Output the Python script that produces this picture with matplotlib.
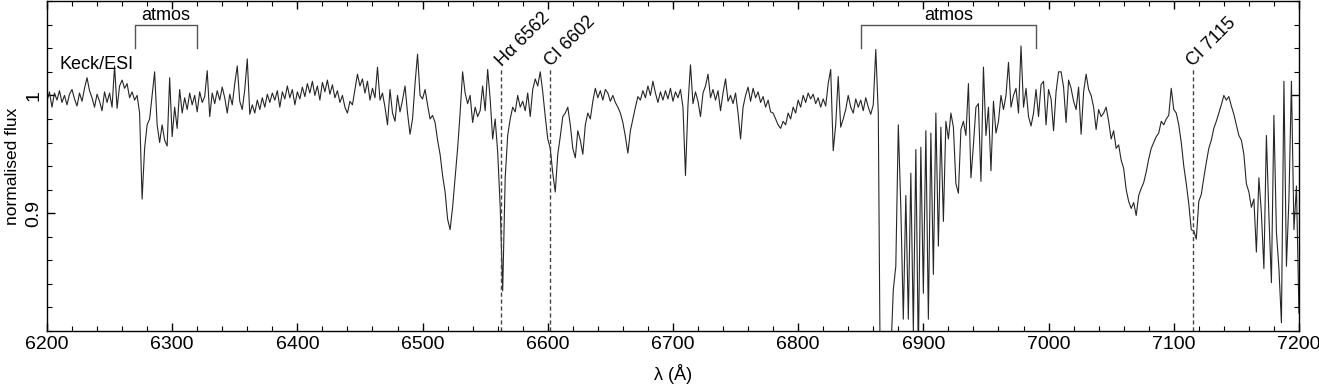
#!/usr/bin/env python3
"""Keck/ESI normalised spectrum, 6200-7200 A, with telluric bands and line markers."""

import matplotlib

matplotlib.use("Agg")
import matplotlib.pyplot as plt
import numpy as np
from matplotlib.ticker import FixedLocator, MultipleLocator

flux_6200 = [
    0.995, 1.003, 0.990, 1.002, 0.996, 1.004, 0.994, 1.000, 0.992, 1.001,
    1.005, 0.997, 0.991, 1.002, 0.995, 1.006, 1.015, 1.004, 0.998, 0.990,
    1.001, 0.995, 0.987, 1.003, 0.994, 1.002, 0.990, 1.025, 0.989, 1.008,
    1.013, 1.006, 1.010, 0.998, 1.003, 0.996, 1.000, 0.985, 0.912, 0.955,
    0.975, 0.980, 1.000, 1.020, 0.975, 0.960, 0.975, 0.962, 0.957, 1.015,
]
flux_6300 = [
    0.965, 0.990, 0.972, 1.005, 0.985, 0.998, 0.988, 1.002, 0.992, 1.000,
    0.986, 1.003, 0.994, 0.999, 1.021, 0.982, 1.002, 0.993, 1.004, 0.996,
    1.007, 0.998, 0.985, 1.001, 0.992, 1.010, 1.025, 0.995, 0.988, 1.005,
    1.031, 0.984, 0.992, 0.985, 0.996, 0.988, 0.998, 0.990, 1.001, 0.994,
    1.002, 0.996, 1.004, 0.990, 1.003, 0.997, 1.008, 0.998, 1.005, 0.992,
]
flux_6400 = [
    1.003, 0.997, 1.007, 0.999, 1.010, 1.002, 1.012, 1.000, 1.008, 0.996,
    1.011, 1.003, 1.013, 1.001, 1.009, 0.998, 1.004, 0.994, 1.000, 0.990,
    0.985, 0.995, 0.992, 1.005, 1.018, 1.008, 1.014, 1.002, 1.012, 0.996,
    1.006, 0.998, 1.024, 0.996, 1.002, 0.990, 0.975, 1.005, 0.985, 0.978,
    1.000, 0.986, 0.996, 1.008, 0.985, 0.967, 0.980, 1.010, 1.035, 1.000,
]
flux_6500 = [
    0.997, 1.005, 0.992, 0.980, 0.983, 0.977, 0.962, 0.950, 0.932, 0.918,
    0.895, 0.886, 0.905, 0.930, 0.955, 0.985, 1.020, 1.002, 0.993, 1.000,
    0.977, 0.990, 0.982, 0.987, 1.008, 0.987, 1.022, 0.997, 0.963, 0.980,
    0.952, 0.906, 0.834, 0.930, 0.966, 0.980, 0.990, 0.986, 1.000, 0.990,
    0.995, 0.987, 1.002, 0.982, 1.005, 1.014, 1.008, 1.020, 1.003, 0.982,
]
flux_6600 = [
    0.963, 0.955, 0.934, 0.918, 0.950, 0.965, 0.982, 0.985, 0.990, 0.975,
    0.955, 0.947, 0.970, 0.962, 0.950, 0.975, 0.985, 0.980, 0.995, 1.006,
    0.998, 1.004, 0.996, 1.005, 1.002, 0.995, 1.000, 0.994, 0.990, 0.985,
    0.977, 0.965, 0.951, 0.970, 0.980, 0.990, 0.999, 0.996, 1.004, 0.998,
    1.008, 1.000, 1.012, 1.002, 0.994, 1.003, 0.996, 1.004, 0.997, 1.006,
]
flux_6700 = [
    0.995, 1.003, 0.998, 1.005, 0.990, 0.932, 0.992, 1.026, 0.993, 1.003,
    0.995, 0.982, 1.002, 1.008, 1.018, 0.998, 1.005, 0.996, 1.004, 0.987,
    1.002, 1.014, 0.995, 1.000, 0.993, 1.002, 0.985, 0.963, 0.990, 1.000,
    1.007, 0.995, 1.006, 0.998, 1.003, 0.994, 0.999, 0.990, 0.996, 0.986,
    0.985, 0.980, 0.975, 0.972, 0.978, 0.975, 0.985, 0.980, 0.990, 0.985,
]
flux_6800 = [
    0.996, 0.990, 1.000, 0.994, 1.002, 0.997, 1.001, 0.993, 0.998, 0.990,
    0.997, 0.991, 1.010, 1.022, 0.953, 0.975, 1.016, 0.973, 0.980, 0.988,
    1.000, 0.990, 0.985, 0.997, 0.990, 0.996, 0.987, 0.998, 0.990, 0.984,
    0.992, 1.039, 0.985, 0.700, 0.650, 0.650, 0.700, 0.780, 0.835, 0.855,
    0.975, 0.905, 0.810, 0.915, 0.810, 0.934, 0.800, 0.954, 0.780, 0.956,
]
flux_6900 = [
    0.832, 0.970, 0.810, 0.968, 0.848, 0.985, 0.872, 0.973, 0.893, 0.978,
    0.963, 0.985, 0.973, 0.925, 0.917, 0.971, 0.978, 0.966, 1.010, 0.930,
    0.958, 0.990, 0.993, 0.927, 1.024, 0.966, 0.990, 0.936, 0.995, 0.968,
    0.978, 1.000, 0.988, 1.000, 1.028, 0.990, 1.000, 1.006, 0.985, 1.042,
    0.990, 1.006, 0.982, 0.974, 0.985, 1.005, 0.982, 1.009, 1.012, 0.975,
]
flux_7000 = [
    1.005, 0.997, 0.970, 1.003, 1.020, 1.020, 1.007, 0.977, 1.013, 1.006,
    0.995, 0.988, 1.007, 0.967, 1.003, 1.018, 1.005, 1.000, 0.990, 0.971,
    0.988, 0.982, 0.985, 0.990, 0.978, 0.963, 0.970, 0.955, 0.958, 0.945,
    0.938, 0.920, 0.910, 0.904, 0.909, 0.898, 0.915, 0.921, 0.926, 0.935,
    0.946, 0.955, 0.960, 0.965, 0.968, 0.978, 0.975, 0.980, 0.983, 1.006,
]
flux_7100 = [
    0.988, 0.985, 0.975, 0.960, 0.940, 0.925, 0.908, 0.886, 0.885, 0.878,
    0.910, 0.916, 0.930, 0.943, 0.955, 0.962, 0.972, 0.978, 0.985, 0.992,
    1.000, 0.996, 0.999, 0.991, 0.984, 0.975, 0.966, 0.962, 0.950, 0.925,
    0.918, 0.905, 0.912, 0.867, 0.930, 0.900, 0.853, 0.966, 0.898, 0.841,
    0.983, 0.884, 0.853, 0.807, 1.012, 0.855, 0.912, 1.012, 0.886, 0.923,
    0.815,
]

line_names = ["H\u03b1 6562", "CI 6602", "CI 7115"]
line_waves = [6563, 6602, 7115]
atmos_bands = [(6270, 6320), (6850, 6990)]


def main() -> int:
    plt.rcParams.update(
        {
            "font.family": ["Liberation Sans", "DejaVu Sans"],
            "font.size": 13,
            "axes.linewidth": 1.0,
        }
    )
    flux = np.array(
        flux_6200 + flux_6300 + flux_6400 + flux_6500 + flux_6600
        + flux_6700 + flux_6800 + flux_6900 + flux_7000 + flux_7100
    )
    wave = 6200 + 2 * np.arange(len(flux))

    fig = plt.figure(figsize=(13.19, 3.88), dpi=100)
    ax = fig.add_axes([0.0356, 0.147, 0.9492, 0.850])
    ax.plot(wave, flux, color="#262626", lw=0.8)

    for lam, name in zip(line_waves, line_names):
        ax.plot([lam, lam], [0.8, 1.022], color="#444444", lw=1.0, ls=(0, (3, 2)))
        ax.text(lam + 0.5, 1.024, name, rotation=45, rotation_mode="anchor",
                ha="left", va="baseline", fontsize=13)

    for lo, hi in atmos_bands:
        ax.plot([lo, lo, hi, hi], [1.04, 1.06, 1.06, 1.04], color="#555555", lw=1.0)
        ax.text(0.5 * (lo + hi), 1.0640, "atmos", ha="center", va="baseline", fontsize=13)

    ax.text(6210, 1.022, "Keck/ESI", ha="left", va="baseline", fontsize=13)

    ax.set_xlim(6200, 7200)
    ax.set_ylim(0.8, 1.08)
    ax.xaxis.set_major_locator(MultipleLocator(100))
    ax.xaxis.set_minor_locator(MultipleLocator(20))
    ax.yaxis.set_major_locator(FixedLocator([0.9, 1.0]))
    ax.yaxis.set_minor_locator(MultipleLocator(0.02))
    ax.set_yticklabels(["0.9", "1"], rotation=90, va="center")
    ax.tick_params(which="both", direction="in", top=True, right=True, labelsize=14)
    ax.tick_params(which="major", length=6, width=1.0)
    ax.tick_params(which="minor", length=3.5, width=0.8)
    ax.set_xlabel("\u03bb (\u00c5)", fontsize=13, labelpad=8)
    ax.set_ylabel("normalised flux", fontsize=12.5, labelpad=4)

    fig.savefig("out.png", dpi=100)
    plt.close(fig)
    return 0


if __name__ == "__main__":
    raise SystemExit(main())
